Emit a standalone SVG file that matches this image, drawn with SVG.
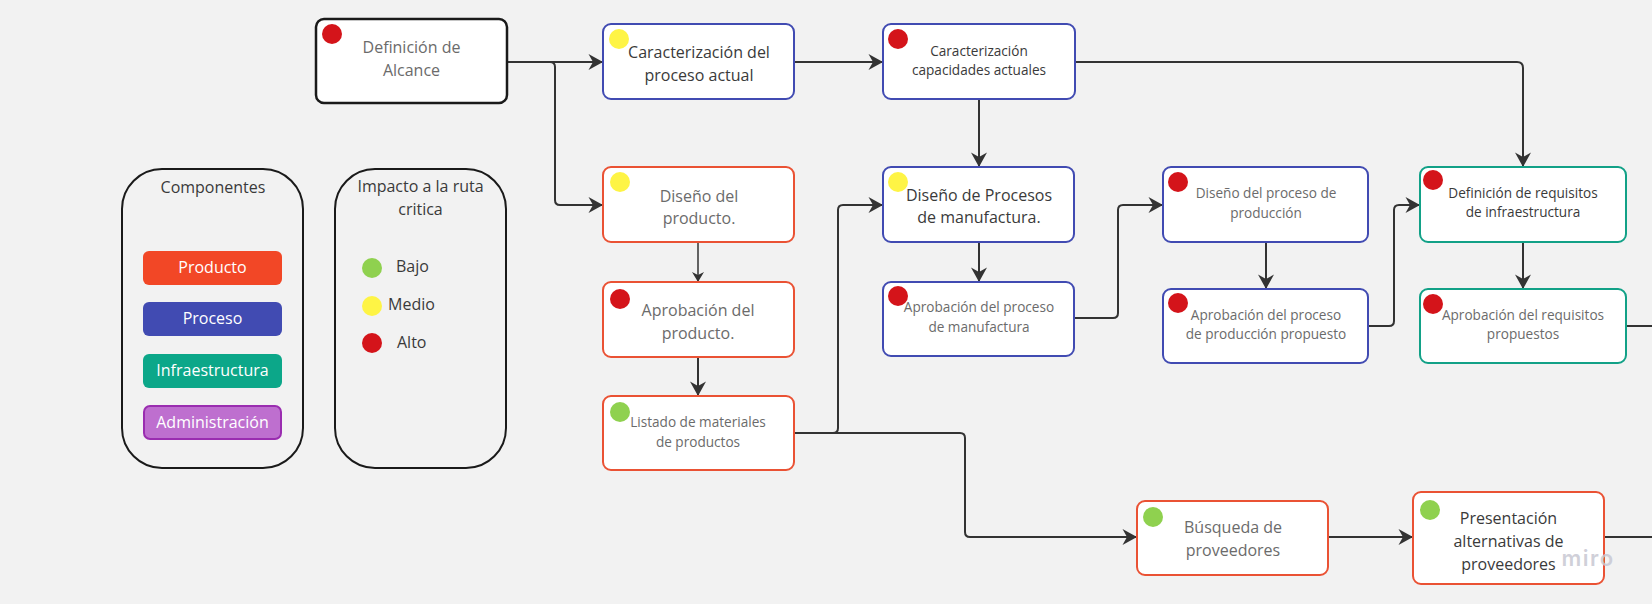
<svg xmlns="http://www.w3.org/2000/svg" width="1652" height="604" viewBox="0 0 1652 604">
<style>
.bg{fill:#f2f2f2}
.box{fill:#ffffff;stroke-width:2}
.prod{stroke:#ea5234}
.proc{stroke:#414bb2}
.infra{stroke:#12a187}
.blk{stroke:#1a1a1a;stroke-width:2.5}
.leg{fill:none;stroke:#1a1a1a;stroke-width:2}
.t{font-family:"Open Sans","Liberation Sans",sans-serif;text-anchor:middle}
.g{fill:#6b6b6b}
.d{fill:#3a3a3a}
.s16{font-size:16px}
.s14{font-size:13.6px}
.w{fill:#ffffff;font-size:16px;font-weight:500}
.red{fill:#d4141a}
.yel{fill:#fef445}
.grn{fill:#8fd14f}
.c{fill:none;stroke:#333333;stroke-width:2}
.c2{fill:none;stroke:#333333;stroke-width:1.5}
</style>
<defs>
<marker id="ah" markerUnits="userSpaceOnUse" viewBox="-15 -9 15 18" refX="0" refY="0" markerWidth="15" markerHeight="18" orient="auto">
<path d="M0,0 L-14.5,-8 L-10,0 L-14.5,8 Z" fill="#333333"/>
</marker>
<marker id="ahs" markerUnits="userSpaceOnUse" viewBox="-11 -7 11 14" refX="0" refY="0" markerWidth="11" markerHeight="14" orient="auto">
<path d="M0,0 L-10,-6 L-7,0 L-10,6 Z" fill="#333333"/>
</marker>
</defs>
<rect class="bg" x="0" y="0" width="1652" height="604"/>

<g id="connectors">
<path class="c" d="M507,62 H603" marker-end="url(#ah)"/>
<path class="c" d="M507,62 H550 Q555,62 555,67 V200 Q555,205 560,205 H603" marker-end="url(#ah)"/>
<path class="c" d="M794,62 H883" marker-end="url(#ah)"/>
<path class="c" d="M1075,62 H1517 Q1523,62 1523,68 V167" marker-end="url(#ah)"/>
<path class="c" d="M979,99 V167" marker-end="url(#ah)"/>
<path class="c2" d="M698,242 V282" marker-end="url(#ahs)"/>
<path class="c" d="M698,357 V396" marker-end="url(#ah)"/>
<path class="c" d="M794,433 H833 Q838,433 838,428 V210 Q838,205 843,205 H883" marker-end="url(#ah)"/>
<path class="c" d="M794,433 H960 Q965,433 965,438 V532 Q965,537 970,537 H1137" marker-end="url(#ah)"/>
<path class="c" d="M979,242 V282" marker-end="url(#ah)"/>
<path class="c" d="M1074,318 H1113 Q1118,318 1118,313 V210 Q1118,205 1123,205 H1163" marker-end="url(#ah)"/>
<path class="c" d="M1266,242 V289" marker-end="url(#ah)"/>
<path class="c" d="M1368,326 H1389 Q1394,326 1394,321 V210 Q1394,205 1399,205 H1420" marker-end="url(#ah)"/>
<path class="c" d="M1523,242 V289" marker-end="url(#ah)"/>
<path class="c" d="M1626,326 H1652"/>
<path class="c" d="M1328,537 H1413" marker-end="url(#ah)"/>
<path class="c" d="M1604,537 H1652"/>
</g>

<g id="legend-componentes">
<rect class="leg" x="122" y="169" width="181" height="299" rx="40"/>
<text class="t d s16" x="213" y="193">Componentes</text>
<rect x="143" y="251" width="139" height="34" rx="6" fill="#f24726"/>
<text class="t w" x="212.5" y="273">Producto</text>
<rect x="143" y="302" width="139" height="34" rx="6" fill="#414bb2"/>
<text class="t w" x="212.5" y="324">Proceso</text>
<rect x="143" y="354" width="139" height="34" rx="6" fill="#0ca789"/>
<text class="t w" x="212.5" y="376">Infraestructura</text>
<rect x="144" y="406" width="137" height="33" rx="6" fill="#be6fcf" stroke="#9a2db0" stroke-width="2"/>
<text class="t w" x="212.5" y="428">Administración</text>
</g>

<g id="legend-impacto">
<rect class="leg" x="335" y="169" width="171" height="299" rx="40"/>
<text class="t d s16" x="420.5" y="192">Impacto a la ruta</text>
<text class="t d s16" x="420.5" y="215">critica</text>
<circle class="grn" cx="372" cy="268" r="10"/>
<text class="t d s16" x="396" y="272" style="text-anchor:start">Bajo</text>
<circle class="yel" cx="372" cy="306" r="10"/>
<text class="t d s16" x="388" y="310" style="text-anchor:start">Medio</text>
<circle class="red" cx="372" cy="343" r="10"/>
<text class="t d s16" x="397" y="348" style="text-anchor:start">Alto</text>
</g>

<g id="n-definicion-alcance">
<rect class="box blk" x="316" y="19" width="191" height="84" rx="8"/>
<circle class="red" cx="332" cy="34" r="10"/>
<text class="t g s16" x="411.5" y="53">Definición de</text>
<text class="t g s16" x="411.5" y="76">Alcance</text>
</g>

<g id="n-caracterizacion-proceso">
<rect class="box proc" x="603" y="24" width="191" height="75" rx="8"/>
<circle class="yel" cx="619" cy="39" r="10"/>
<text class="t d s16" x="699" y="58">Caracterización del</text>
<text class="t d s16" x="699" y="81">proceso actual</text>
</g>

<g id="n-caracterizacion-capacidades">
<rect class="box proc" x="883" y="24" width="192" height="75" rx="8"/>
<circle class="red" cx="898" cy="39" r="10"/>
<text class="t d s14" x="979" y="56">Caracterización</text>
<text class="t d s14" x="979" y="75">capacidades actuales</text>
</g>

<g id="n-diseno-producto">
<rect class="box prod" x="603" y="167" width="191" height="75" rx="8"/>
<circle class="yel" cx="620" cy="182" r="10"/>
<text class="t g s16" x="699" y="202">Diseño del</text>
<text class="t g s16" x="699" y="224">producto.</text>
</g>

<g id="n-aprobacion-producto">
<rect class="box prod" x="603" y="282" width="191" height="75" rx="8"/>
<circle class="red" cx="620" cy="299" r="10"/>
<text class="t g s16" x="698" y="316">Aprobación del</text>
<text class="t g s16" x="698" y="339">producto.</text>
</g>

<g id="n-listado-materiales">
<rect class="box prod" x="603" y="396" width="191" height="74" rx="8"/>
<circle class="grn" cx="620" cy="412" r="10"/>
<text class="t g s14" x="698" y="427">Listado de materiales</text>
<text class="t g s14" x="698" y="447">de productos</text>
</g>

<g id="n-diseno-procesos-manufactura">
<rect class="box proc" x="883" y="167" width="191" height="75" rx="8"/>
<circle class="yel" cx="898" cy="182" r="10"/>
<text class="t d s16" x="979" y="201">Diseño de Procesos</text>
<text class="t d s16" x="979" y="223">de manufactura.</text>
</g>

<g id="n-aprobacion-manufactura">
<rect class="box proc" x="883" y="282" width="191" height="74" rx="8"/>
<circle class="red" cx="898" cy="296" r="10"/>
<text class="t g s14" x="979" y="312">Aprobación del proceso</text>
<text class="t g s14" x="979" y="332">de manufactura</text>
</g>

<g id="n-diseno-proceso-produccion">
<rect class="box proc" x="1163" y="167" width="205" height="75" rx="8"/>
<circle class="red" cx="1178" cy="182" r="10"/>
<text class="t g s14" x="1266" y="198">Diseño del proceso de</text>
<text class="t g s14" x="1266" y="218">producción</text>
</g>

<g id="n-aprobacion-produccion">
<rect class="box proc" x="1163" y="289" width="205" height="74" rx="8"/>
<circle class="red" cx="1178" cy="303" r="10"/>
<text class="t g s14" x="1266" y="320">Aprobación del proceso</text>
<text class="t g s14" x="1266" y="339">de producción propuesto</text>
</g>

<g id="n-definicion-requisitos">
<rect class="box infra" x="1420" y="167" width="206" height="75" rx="8"/>
<circle class="red" cx="1433" cy="180" r="10"/>
<text class="t d s14" x="1523" y="198">Definición de requisitos</text>
<text class="t d s14" x="1523" y="217">de infraestructura</text>
</g>

<g id="n-aprobacion-requisitos">
<rect class="box infra" x="1420" y="289" width="206" height="74" rx="8"/>
<circle class="red" cx="1433" cy="304" r="10"/>
<text class="t g s14" x="1523" y="320">Aprobación del requisitos</text>
<text class="t g s14" x="1523" y="339">propuestos</text>
</g>

<g id="n-busqueda-proveedores">
<rect class="box prod" x="1137" y="501" width="191" height="74" rx="8"/>
<circle class="grn" cx="1153" cy="517" r="10"/>
<text class="t g s16" x="1233" y="533">Búsqueda de</text>
<text class="t g s16" x="1233" y="556">proveedores</text>
</g>

<g id="n-presentacion-alternativas">
<rect class="box prod" x="1413" y="492" width="191" height="92" rx="8"/>
<circle class="grn" cx="1430" cy="510" r="10"/>
<text class="t d s16" x="1508.5" y="524">Presentación</text>
<text class="t d s16" x="1508.5" y="547">alternativas de</text>
<text class="t d s16" x="1508.5" y="570">proveedores</text>
</g>

<text x="1588" y="566" font-family="Inter,'Open Sans',sans-serif" font-size="22" font-weight="600" fill="#c8c8d2" fill-opacity="0.85" text-anchor="middle" letter-spacing="1.5">miro</text>
</svg>
